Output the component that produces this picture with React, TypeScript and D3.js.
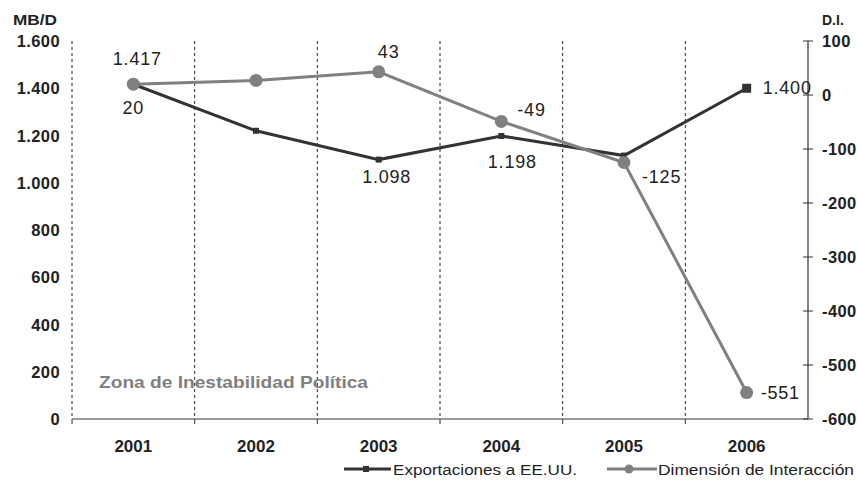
import React from "react";
import * as d3 from "d3";

const years = ["2001", "2002", "2003", "2004", "2005", "2006"];
const exportsUS = [1417, 1220, 1098, 1198, 1115, 1400];
const interaction = [20, 27, 43, -49, -125, -551];
const leftTicks = [0, 200, 400, 600, 800, 1000, 1200, 1400, 1600];
const rightTicks = [100, 0, -100, -200, -300, -400, -500, -600];

const fmt = (v: number) => {
  const s = String(Math.abs(v));
  const out = s.length > 3 ? s.slice(0, s.length - 3) + "." + s.slice(s.length - 3) : s;
  return (v < 0 ? "-" : "") + out;
};

export default function App() {
  const W = 857, H = 485;
  const x0 = 72, x1 = 808, yTop = 41, yBot = 419;
  const x = d3.scaleBand<string>().domain(years).range([x0, x1]);
  const yL = d3.scaleLinear().domain([0, 1600]).range([yBot, yTop]);
  const yR = d3.scaleLinear().domain([-600, 100]).range([yBot, yTop]);
  const cx = (i: number) => (x(years[i]) as number) + x.bandwidth() / 2;

  const lineE = d3.line<number>().x((_, i) => cx(i)).y((d) => yL(d));
  const lineD = d3.line<number>().x((_, i) => cx(i)).y((d) => yR(d));

  const font = "'Liberation Sans', Arial, sans-serif";
  const dark = "#333333";
  const gray = "#808080";

  const eLabels: { i: number; dx: number; dy: number; anchor: string }[] = [
    { i: 0, dx: 4, dy: -19, anchor: "middle" },
    { i: 2, dx: 8, dy: 23, anchor: "middle" },
    { i: 3, dx: 11, dy: 32, anchor: "middle" },
    { i: 5, dx: 16, dy: 6, anchor: "start" },
  ];
  const dLabels: { i: number; dx: number; dy: number; anchor: string }[] = [
    { i: 0, dx: 0, dy: 30, anchor: "middle" },
    { i: 2, dx: 10, dy: -14, anchor: "middle" },
    { i: 3, dx: 16, dy: -5, anchor: "start" },
    { i: 4, dx: 18, dy: 20, anchor: "start" },
    { i: 5, dx: 14, dy: 6, anchor: "start" },
  ];

  return (
    <svg width={W} height={H} style={{ position: "absolute", left: 0, top: 0, background: "#fff" }} fontFamily={font}>
      {years.map((yr) => (
        <line key={yr} x1={x(yr)} x2={x(yr)} y1={yTop} y2={yBot} stroke="#222" strokeWidth={1} strokeDasharray="3,3" />
      ))}
      <line x1={x0} x2={x1} y1={yBot} y2={yBot} stroke="#333" strokeWidth={1.2} />
      {years.map((yr) => (
        <line key={"t" + yr} x1={x(yr)} x2={x(yr)} y1={yBot} y2={yBot + 5} stroke="#333" />
      ))}
      {years.map((yr, i) => (
        <text key={"l" + yr} x={cx(i)} y={452} textAnchor="middle" fontSize={17} fontWeight="bold" fill="#222">
          {yr}
        </text>
      ))}
      {leftTicks.map((t) => (
        <text key={"lt" + t} x={60} y={yL(t) + 6} textAnchor="end" fontSize={16.5} fontWeight="bold" fill="#222" letterSpacing={0.4}>
          {fmt(t)}
        </text>
      ))}
      <text x={13} y={25} fontSize={14} fontWeight="bold" fill="#222" textLength={44} lengthAdjust="spacingAndGlyphs">MB/D</text>
      <line x1={x1} x2={x1} y1={yTop} y2={yBot} stroke="#333" strokeWidth={1.2} />
      {rightTicks.map((t) => (
        <g key={"rt" + t}>
          <line x1={x1 - 5} x2={x1 + 5} y1={yR(t)} y2={yR(t)} stroke="#333" />
          <text x={822} y={yR(t) + 6} fontSize={16.5} fontWeight="bold" fill="#222" letterSpacing={0.4}>
            {fmt(t)}
          </text>
        </g>
      ))}
      <text x={822} y={25} fontSize={14} fontWeight="bold" fill="#222">D.I.</text>

      <text x={99} y={388} fontSize={17} fontWeight="bold" fill="#808080" textLength={269} lengthAdjust="spacingAndGlyphs">Zona de Inestabilidad Política</text>

      <path d={lineE(exportsUS) as string} fill="none" stroke={dark} strokeWidth={3} />
      {exportsUS.map((v, i) => {
        const s = i === 5 ? 9 : 6;
        return <rect key={"e" + i} x={cx(i) - s / 2} y={yL(v) - s / 2} width={s} height={s} fill={dark} />;
      })}
      <path d={lineD(interaction) as string} fill="none" stroke={gray} strokeWidth={3} />
      {interaction.map((v, i) => (
        <circle key={"d" + i} cx={cx(i)} cy={yR(v)} r={6.5} fill={gray} />
      ))}

      {eLabels.map((l) => (
        <text key={"el" + l.i} x={cx(l.i) + l.dx} y={yL(exportsUS[l.i]) + l.dy} textAnchor={l.anchor as any} fontSize={18} fill="#222" letterSpacing={0.8}>
          {fmt(exportsUS[l.i])}
        </text>
      ))}
      {dLabels.map((l) => (
        <text key={"dl" + l.i} x={cx(l.i) + l.dx} y={yR(interaction[l.i]) + l.dy} textAnchor={l.anchor as any} fontSize={18} fill="#222" letterSpacing={0.8}>
          {fmt(interaction[l.i])}
        </text>
      ))}

      <line x1={344} x2={391} y1={469} y2={469} stroke={dark} strokeWidth={3} />
      <rect x={363} y={466} width={6} height={6} fill={dark} />
      <text x={393} y={475} fontSize={15.5} fill="#222" textLength={184} lengthAdjust="spacingAndGlyphs">Exportaciones a EE.UU.</text>
      <line x1={607} x2={657} y1={469} y2={469} stroke={gray} strokeWidth={3} />
      <circle cx={629} cy={469} r={4.5} fill={gray} />
      <text x={658} y={475} fontSize={15.5} fill="#222" textLength={196} lengthAdjust="spacingAndGlyphs">Dimensión de Interacción</text>
    </svg>
  );
}
